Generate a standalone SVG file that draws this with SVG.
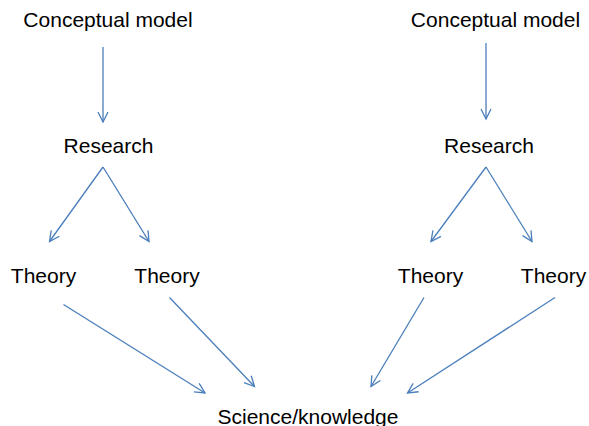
<svg xmlns="http://www.w3.org/2000/svg" width="589" height="426" viewBox="0 0 589 426">
<style>
text{font-family:"Liberation Sans",Arial,Helvetica,sans-serif;font-size:21px;fill:#000;text-anchor:middle}
.c line{stroke:#4a7ebb;stroke-width:1.3;marker-end:url(#ah)}
</style>
<defs>
<marker id="ah" markerUnits="userSpaceOnUse" markerWidth="14" markerHeight="14" refX="11" refY="6" orient="auto" viewBox="0 0 14 12">
<path d="M1,1 L11,6 L1,11" fill="none" stroke="#4a7ebb" stroke-width="1.3"/>
</marker>
</defs>
<rect width="589" height="426" fill="#fff"/>
<g id="cm1"><text x="108" y="27">Conceptual model</text></g>
<g id="cm2"><text x="495.5" y="27">Conceptual model</text></g>
<g id="r1"><text x="108.5" y="152.5">Research</text></g>
<g id="r2"><text x="489" y="152.5">Research</text></g>
<g id="t1"><text x="43.5" y="283">Theory</text></g>
<g id="t2"><text x="167" y="283">Theory</text></g>
<g id="t3"><text x="430.5" y="283">Theory</text></g>
<g id="t4"><text x="553.5" y="283">Theory</text></g>
<g id="sk"><text x="308" y="423.5">Science/knowledge</text></g>
<g class="c" id="connectors">
<line x1="103" y1="47" x2="103" y2="122"/>
<line x1="486" y1="43" x2="486" y2="119"/>
<line x1="103" y1="167" x2="49.5" y2="241.5"/>
<line x1="103" y1="167" x2="149" y2="241.5"/>
<line x1="486" y1="167" x2="431" y2="241.5"/>
<line x1="486" y1="167" x2="532" y2="241.5"/>
<line x1="63.5" y1="304.5" x2="205" y2="393"/>
<line x1="169.5" y1="297.5" x2="254.5" y2="386.5"/>
<line x1="424" y1="297.5" x2="371" y2="386.5"/>
<line x1="555" y1="297.5" x2="407.5" y2="393"/>
</g>
</svg>
